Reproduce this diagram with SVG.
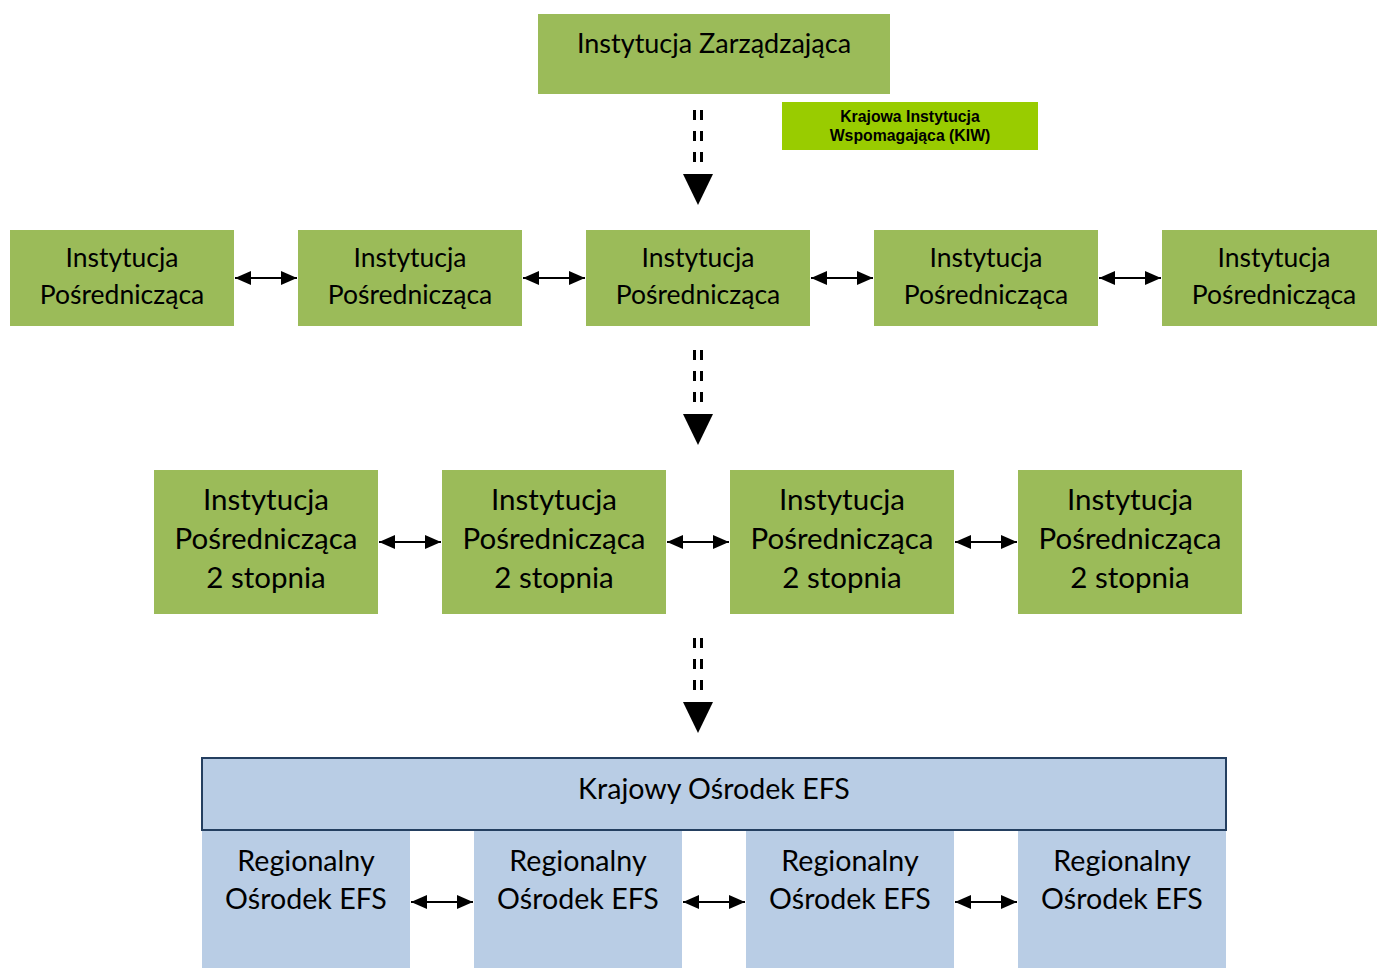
<svg xmlns="http://www.w3.org/2000/svg" width="1377" height="968" viewBox="0 0 1377 968">
<defs>
<style>
.g{fill:#9BBB59}
.b{fill:#B9CDE5}
.t{font-family:Lato,"Open Sans","Liberation Sans",sans-serif;fill:#000;text-anchor:middle}
.t0{font-size:27px}
.t1{font-size:26.5px}
.t2{font-size:29.5px}
.t3{font-size:28.6px}
.k{font-family:"Liberation Sans",Arial,sans-serif;font-weight:bold;font-size:15.8px;text-anchor:middle}
.dl{stroke:#000;stroke-width:3;fill:none}
.da{stroke:#000;stroke-width:2;fill:none;marker-start:url(#ah);marker-end:url(#ah)}
</style>
<marker id="ah" viewBox="0 0 16 14" refX="16" refY="7" markerWidth="16" markerHeight="14" markerUnits="userSpaceOnUse" orient="auto-start-reverse">
<path d="M0,0 L16,7 L0,14 Z" fill="#000"/>
</marker>
</defs>

<g id="iz"><rect class="g" x="538" y="14" width="352" height="80"/><text class="t t0" x="714" y="53">Instytucja Zarządzająca</text></g>
<g id="kiw"><rect x="782" y="102" width="256" height="48" fill="#99CC00"/><text class="k" x="910" y="122">Krajowa Instytucja</text><text class="k" x="910" y="141">Wspomagająca (KIW)</text></g>

<g id="ip1"><rect class="g" x="10" y="230" width="224" height="96"/><text class="t t1" x="122" y="267">Instytucja</text><text class="t t1" x="122" y="304">Pośrednicząca</text></g>
<g id="ip2"><rect class="g" x="298" y="230" width="224" height="96"/><text class="t t1" x="410" y="267">Instytucja</text><text class="t t1" x="410" y="304">Pośrednicząca</text></g>
<g id="ip3"><rect class="g" x="586" y="230" width="224" height="96"/><text class="t t1" x="698" y="267">Instytucja</text><text class="t t1" x="698" y="304">Pośrednicząca</text></g>
<g id="ip4"><rect class="g" x="874" y="230" width="224" height="96"/><text class="t t1" x="986" y="267">Instytucja</text><text class="t t1" x="986" y="304">Pośrednicząca</text></g>
<g id="ip5"><rect class="g" x="1162" y="230" width="224" height="96"/><text class="t t1" x="1274" y="267">Instytucja</text><text class="t t1" x="1274" y="304">Pośrednicząca</text></g>

<g id="ips1"><rect class="g" x="154" y="470" width="224" height="144"/><text class="t t2" x="266" y="510">Instytucja</text><text class="t t2" x="266" y="549">Pośrednicząca</text><text class="t t2" x="266" y="588">2 stopnia</text></g>
<g id="ips2"><rect class="g" x="442" y="470" width="224" height="144"/><text class="t t2" x="554" y="510">Instytucja</text><text class="t t2" x="554" y="549">Pośrednicząca</text><text class="t t2" x="554" y="588">2 stopnia</text></g>
<g id="ips3"><rect class="g" x="730" y="470" width="224" height="144"/><text class="t t2" x="842" y="510">Instytucja</text><text class="t t2" x="842" y="549">Pośrednicząca</text><text class="t t2" x="842" y="588">2 stopnia</text></g>
<g id="ips4"><rect class="g" x="1018" y="470" width="224" height="144"/><text class="t t2" x="1130" y="510">Instytucja</text><text class="t t2" x="1130" y="549">Pośrednicząca</text><text class="t t2" x="1130" y="588">2 stopnia</text></g>

<g id="roefs1"><rect class="b" x="202" y="830" width="208" height="138"/><text class="t t3" x="306" y="871">Regionalny</text><text class="t t3" x="306" y="909">Ośrodek EFS</text></g>
<g id="roefs2"><rect class="b" x="474" y="830" width="208" height="138"/><text class="t t3" x="578" y="871">Regionalny</text><text class="t t3" x="578" y="909">Ośrodek EFS</text></g>
<g id="roefs3"><rect class="b" x="746" y="830" width="208" height="138"/><text class="t t3" x="850" y="871">Regionalny</text><text class="t t3" x="850" y="909">Ośrodek EFS</text></g>
<g id="roefs4"><rect class="b" x="1018" y="830" width="208" height="138"/><text class="t t3" x="1122" y="871">Regionalny</text><text class="t t3" x="1122" y="909">Ośrodek EFS</text></g>
<g id="koefs"><rect class="b" x="202" y="758" width="1024" height="72" stroke="#243F60" stroke-width="2"/><text class="t t3" x="714" y="799">Krajowy Ośrodek EFS</text></g>

<g id="connectors">
<g>
<line class="dl" x1="694.5" y1="110" x2="694.5" y2="164" stroke-dasharray="10,11"/>
<line class="dl" x1="701.5" y1="110" x2="701.5" y2="164" stroke-dasharray="10,11"/>
<path d="M683,174 L713,174 L698,205 Z" fill="#000"/>
</g>
<g>
<line class="dl" x1="694.5" y1="350" x2="694.5" y2="404" stroke-dasharray="10,11"/>
<line class="dl" x1="701.5" y1="350" x2="701.5" y2="404" stroke-dasharray="10,11"/>
<path d="M683,414 L713,414 L698,445 Z" fill="#000"/>
</g>
<g>
<line class="dl" x1="694.5" y1="638" x2="694.5" y2="692" stroke-dasharray="10,11"/>
<line class="dl" x1="701.5" y1="638" x2="701.5" y2="692" stroke-dasharray="10,11"/>
<path d="M683,702 L713,702 L698,733 Z" fill="#000"/>
</g>
<line class="da" x1="235" y1="278" x2="297" y2="278"/>
<line class="da" x1="523" y1="278" x2="585" y2="278"/>
<line class="da" x1="811" y1="278" x2="873" y2="278"/>
<line class="da" x1="1099" y1="278" x2="1161" y2="278"/>
<line class="da" x1="379" y1="542" x2="441" y2="542"/>
<line class="da" x1="667" y1="542" x2="729" y2="542"/>
<line class="da" x1="955" y1="542" x2="1017" y2="542"/>
<line class="da" x1="411" y1="902" x2="473" y2="902"/>
<line class="da" x1="683" y1="902" x2="745" y2="902"/>
<line class="da" x1="955" y1="902" x2="1017" y2="902"/>
</g>
</svg>
